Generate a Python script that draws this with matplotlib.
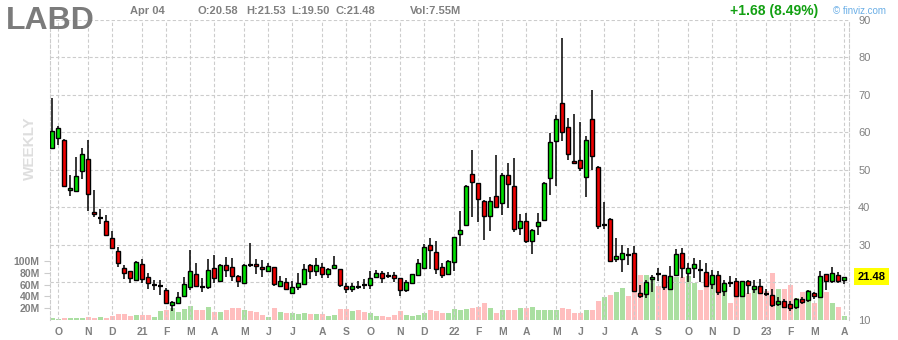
import matplotlib.pyplot as plt
import numpy as np
import pandas as pd

plt.rcParams['font.family'] = ['Liberation Sans', 'DejaVu Sans']

# weekly bars, LABD, Sep 2020 - Apr 2023
opens = [55.8, 58.5, 58.0, 44.6, 44.3, 49.7, 52.9, 38.7, 37.1, 36.3,
         31.8, 28.3, 23.7, 23.1, 20.5, 24.8, 21.3, 19.1, 18.9, 17.9,
         13.8, 14.4, 16.2, 18.7, 22.1, 18.8, 18.7, 23.7, 20.2, 24.5,
         24.1, 21.6, 19.7, 24.7, 24.8, 24.0, 23.1, 24.0, 19.1, 20.0,
         17.2, 18.6, 19.6, 24.5, 23.1, 24.1, 22.1, 23.7, 23.6, 19.0,
         18.1, 18.65, 19.4, 19.2, 21.5, 22.4, 21.7, 21.9, 21.1, 17.9,
         19.7, 21.9, 23.7, 29.9, 28.0, 24.0, 22.1, 25.3, 32.8, 35.2,
         48.9, 46.5, 41.7, 37.6, 43.0, 41.1, 48.6, 45.7, 34.4, 36.3,
         31.0, 35.0, 36.6, 47.8, 57.7, 67.9, 61.4, 52.4, 52.6, 48.1,
         63.6, 50.7, 35.2, 36.8, 26.1, 26.1, 27.2, 27.7, 17.05, 16.8,
         20.8, 22.2, 21.9, 18.3, 22.0, 27.7, 22.4, 23.7, 23.3, 22.7,
         19.5, 21.8, 17.6, 19.9, 20.3, 16.4, 20.3, 18.3, 18.9, 16.9,
         16.5, 14.1, 14.9, 14.1, 13.3, 15.5, 15.2, 17.1, 16.0, 22.2,
         20.4, 21.9, 20.58]
highs = [69.2, 61.8, 58.2, 48.6, 53.5, 55.8, 58.0, 44.7, 39.5, 37.9,
         33.7, 29.4, 24.6, 23.1, 25.6, 26.1, 22.4, 20.5, 20.5, 18.4,
         15.0, 17.4, 21.3, 28.6, 25.2, 21.1, 26.2, 27.3, 24.8, 26.7,
         26.6, 22.0, 24.9, 30.4, 26.2, 26.0, 25.1, 24.0, 21.7, 21.1,
         20.2, 22.5, 24.9, 24.9, 26.5, 25.1, 23.9, 27.0, 23.6, 19.7,
         19.7, 20.4, 20.9, 22.9, 23.3, 22.9, 22.7, 22.7, 21.1, 20.6,
         22.1, 26.2, 30.2, 31.8, 31.1, 25.1, 26.0, 32.2, 39.1, 46.0,
         55.4, 46.5, 41.9, 42.7, 54.0, 49.1, 51.9, 53.2, 38.2, 38.5,
         34.2, 38.5, 46.7, 59.8, 64.7, 85.2, 63.8, 65.0, 62.9, 59.0,
         71.4, 51.0, 41.4, 37.1, 31.8, 29.9, 29.1, 29.6, 19.2, 20.5,
         21.95, 23.8, 22.0, 24.3, 28.9, 29.1, 25.1, 26.5, 25.9, 25.1,
         23.2, 23.1, 20.6, 21.6, 21.1, 20.3, 20.6, 20.6, 20.8, 18.3,
         18.2, 16.1, 15.4, 15.1, 15.9, 16.0, 17.9, 17.3, 23.1, 22.2,
         24.0, 22.6, 21.53]
lows = [55.6, 56.5, 45.3, 42.9, 44.0, 47.5, 38.9, 37.5, 35.6, 32.5,
        28.8, 24.2, 20.9, 19.9, 20.4, 19.7, 18.1, 17.8, 16.6, 14.1,
        12.2, 14.4, 16.2, 17.8, 18.7, 17.4, 18.3, 19.7, 20.0, 21.4,
        20.3, 18.7, 19.6, 24.0, 22.2, 21.5, 22.7, 19.0, 18.6, 17.8,
        16.8, 17.9, 19.4, 20.9, 21.7, 21.0, 21.2, 23.5, 18.7, 17.0,
        17.3, 18.1, 18.1, 18.1, 21.2, 19.9, 21.2, 20.1, 16.4, 17.4,
        19.5, 21.7, 23.5, 23.6, 22.3, 21.2, 22.0, 23.1, 29.8, 35.2,
        37.3, 36.2, 31.4, 33.8, 39.8, 37.9, 39.8, 33.4, 32.6, 30.4,
        27.5, 32.6, 36.6, 43.3, 45.8, 57.7, 52.5, 51.5, 49.7, 42.7,
        49.9, 34.2, 34.2, 25.3, 25.3, 22.7, 24.5, 17.6, 15.7, 15.7,
        17.5, 20.2, 17.9, 17.9, 21.7, 21.1, 20.1, 21.0, 20.1, 18.7,
        18.1, 16.5, 16.2, 18.7, 16.0, 16.4, 16.9, 17.1, 16.8, 16.3,
        13.3, 13.7, 13.0, 12.3, 12.9, 14.2, 14.8, 15.5, 15.7, 17.9,
        19.9, 19.8, 19.50]
closes = [60.5, 61.2, 45.6, 45.1, 48.3, 54.2, 43.5, 38.2, 37.15, 32.6,
          29.1, 25.1, 22.4, 21.1, 25.3, 20.8, 19.7, 19.15, 18.95, 14.4,
          14.6, 16.0, 19.5, 22.9, 19.0, 18.75, 23.2, 21.1, 24.6, 23.2,
          21.6, 20.3, 24.5, 24.65, 24.3, 23.5, 24.3, 19.4, 20.2, 18.1,
          18.7, 19.7, 23.6, 23.1, 24.5, 22.1, 23.6, 24.5, 19.2, 18.1,
          19.0, 18.6, 19.35, 21.1, 22.4, 21.2, 21.65, 21.2, 17.9, 20.0,
          22.1, 25.1, 29.5, 28.5, 23.5, 21.9, 25.7, 32.0, 33.9, 45.7,
          46.7, 42.2, 37.6, 41.7, 40.0, 48.6, 46.2, 34.2, 36.3, 31.0,
          33.9, 36.0, 46.5, 57.4, 63.6, 60.1, 54.2, 51.8, 50.5, 58.0,
          53.7, 35.0, 35.25, 25.6, 26.9, 27.7, 27.15, 17.6, 16.25, 20.0,
          21.3, 22.15, 18.6, 21.6, 27.5, 23.9, 23.7, 24.8, 23.25, 19.0,
          21.8, 17.3, 19.7, 19.85, 16.4, 20.3, 19.2, 18.9, 17.2, 16.85,
          14.0, 14.9, 13.5, 13.0, 15.5, 14.6, 17.7, 16.2, 21.6, 20.4,
          22.4, 20.4, 21.48]
volumes = [2.9, 1.7, 3.4, 3.4, 3.4, 3.4, 5.1, 3.4, 5.1, 3.4,
           6.8, 10.2, 10.2, 6.8, 8.5, 8.5, 8.5, 5.1, 15.3, 16.9,
           20.9, 13.6, 18.6, 23.7, 16.9, 16.9, 22.0, 13.6, 13.6, 16.9,
           20.3, 20.3, 16.9, 15.3, 13.6, 8.5, 5.1, 20.3, 13.6, 11.9,
           11.9, 10.2, 11.9, 10.2, 10.2, 10.2, 6.8, 8.5, 18.6, 18.6,
           15.3, 16.9, 13.6, 11.9, 6.8, 6.8, 5.1, 8.5, 15.3, 8.5,
           6.8, 8.5, 11.9, 16.9, 15.3, 11.9, 11.9, 18.1, 17.5, 19.2,
           20.9, 22.6, 28.2, 20.9, 12.4, 17.5, 17.5, 17.5, 20.9, 20.9,
           22.6, 17.5, 17.5, 17.5, 17.5, 20.3, 19.2, 12.4, 11.3, 17.5,
           17.5, 32.8, 39.5, 43.0, 48.0, 55.0, 41.0, 81.0, 77.0, 76.0,
           67.0, 58.0, 61.0, 56.0, 73.0, 73.0, 75.0, 62.0, 51.0, 61.0,
           60.0, 56.0, 63.0, 29.0, 47.0, 51.0, 45.0, 52.0, 47.0, 50.0,
           79.0, 52.0, 53.0, 60.0, 37.0, 47.0, 51.0, 29.0, 62.0, 48.0,
           29.0, 22.0, 7.55]  # millions

price_ticks = [10, 20, 30, 40, 50, 60, 70, 80, 90]
vol_ticks = [20, 40, 60, 80, 100]
month_letters = 'JFMAMJJASOND'
holidays = pd.to_datetime(['2021-01-01'])

week_end = pd.date_range('2020-09-25', periods=len(opens), freq='W-FRI')
last_day = week_end.where(~week_end.isin(holidays), week_end - pd.Timedelta(days=1))
tick_pos = [i for i in range(1, len(last_day)) if last_day[i].month != last_day[i - 1].month]
tick_lab = [last_day[i].strftime('%y') if last_day[i].month == 1 else month_letters[last_day[i].month - 1]
            for i in tick_pos]

W, H = 898, 340
fig = plt.figure(figsize=(W / 100, H / 100), dpi=100)
ax = fig.add_axes([49.5 / W, 20 / H, 799 / W, 300 / H])
ax_v = ax.twinx()
ax.set_zorder(ax_v.get_zorder() + 1)
ax.patch.set_visible(False)

x = np.arange(len(opens))
o, h, l, c = map(np.array, (opens, highs, lows, closes))
up = c >= o
doji = np.abs(c - o) < 0.2
body = ~doji

grey = '#808080'

# volume
ax_v.bar(x, volumes, width=0.85, color=np.where(up, '#aadfa1', '#ffbebe'), linewidth=0)
ax_v.set_ylim(0, 300 / 0.59)
ax_v.yaxis.tick_left()
ax_v.set_yticks(vol_ticks)
ax_v.set_yticklabels([f'{v}M' for v in vol_ticks])
ax_v.tick_params(axis='y', length=4, width=0.8, color='#cccccc', pad=3,
                 labelsize=7.5, labelcolor=grey)
for t in ax_v.get_yticklabels():
    t.set_fontweight('bold')

# candles
ax.vlines(x, l, h, color='black', lw=1.1, zorder=3)
ax.bar(x[body], np.abs(c - o)[body], bottom=np.minimum(o, c)[body], width=0.7,
       color=np.where(up, '#00e000', '#ee0000')[body], edgecolor='black', linewidth=1.0, zorder=4)
ax.hlines(c[doji], x[doji] - 0.38, x[doji] + 0.38, color='black', lw=1.6, zorder=4)

ax.set_xlim(-0.47, 132.7)
ax.set_ylim(9.92, 90.0)
ax.yaxis.tick_right()
ax.set_yticks(price_ticks)
# the last-price tag sits on top of the 20 label, as on finviz
ax.set_yticklabels(['' if abs(p - closes[-1]) < 3 else str(p) for p in price_ticks])
ax.tick_params(axis='y', length=0, pad=7, labelsize=8, labelcolor=grey)
ax.set_xticks(tick_pos)
ax.set_xticklabels(tick_lab)
ax.tick_params(axis='x', length=0, pad=5, labelsize=7.5, labelcolor=grey)
for t in ax.get_xticklabels():
    t.set_fontweight('bold')
ax.grid(True, color='#cccccc', linestyle=(0, (3, 2)), linewidth=0.8)

for a in (ax, ax_v):
    for s in a.spines.values():
        s.set_visible(False)
for side in ('left', 'right'):
    ax.spines[side].set_visible(True)
    ax.spines[side].set_color('#cccccc')
    ax.spines[side].set_linestyle((0, (3, 2)))
    ax.spines[side].set_linewidth(0.8)

# last price tag
ax.text(1.011, closes[-1], f'{closes[-1]:.2f}', transform=ax.get_yaxis_transform(),
        ha='left', va='center', fontsize=8, fontweight='bold', color='black', zorder=10,
        bbox=dict(boxstyle='square,pad=0.3', fc='#ffff00', ec='none'))


def px(xp, yp):
    return xp / W, 1 - yp / H


fig.text(*px(6, 29), 'LABD', fontsize=23, fontweight='bold', color='#7b7b7b', va='baseline')
fig.text(*px(130, 14), 'Apr 04', fontsize=8, fontweight='bold', color=grey, va='baseline')
for xp, s in zip([197, 246, 291, 335], ['O:20.58', 'H:21.53', 'L:19.50', 'C:21.48']):
    fig.text(*px(xp, 14), s, fontsize=8, fontweight='bold', color=grey, va='baseline')
fig.text(*px(410, 14), 'Vol:7.55M', fontsize=8, fontweight='bold', color=grey, va='baseline')
fig.text(*px(730, 15), '+1.68 (8.49%)', fontsize=10, fontweight='bold', color='#12a012', va='baseline')
fig.text(*px(833, 14), '\u00a9 finviz.com', fontsize=7, color='#6aaee6', va='baseline')
fig.text(*px(30, 148), 'WEEKLY', fontsize=11, fontweight='bold', color='#dedede',
         rotation=90, ha='center', va='center')

fig.savefig('out.png', dpi=100)
